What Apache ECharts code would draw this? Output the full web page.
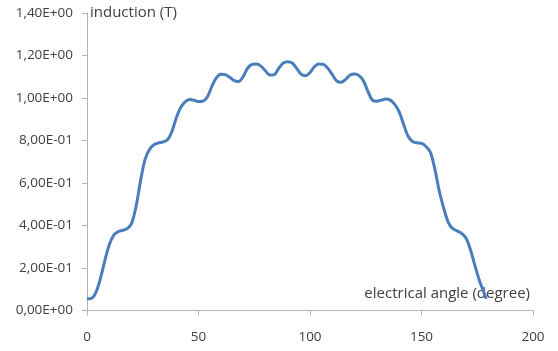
<!DOCTYPE html>
<html>
<head>
<meta charset="utf-8">
<script src="https://cdn.jsdelivr.net/npm/echarts@6/dist/echarts.min.js"></script>
<style>
  html, body { margin: 0; padding: 0; background: #fff; }
  #chart { width: 558px; height: 351px; }
</style>
</head>
<body>
<div id="chart"></div>
<script>
// Electrical angle (degree) and air-gap induction (T)
const angle = [
  0, 2, 4, 6, 8, 10, 12, 14, 16, 18, 20, 22, 24, 26, 28, 30, 32, 34, 36, 38,
  40, 42, 44, 46, 48, 50, 52, 54, 56, 58, 60, 62, 64, 66, 68, 70, 72, 74, 76, 78,
  80, 82, 84, 86, 88, 90, 92, 94, 96, 98, 100, 102, 104, 106, 108, 110, 112, 114, 116, 118,
  120, 122, 124, 126, 128, 130, 132, 134, 136, 138, 140, 142, 144, 146, 148, 150, 152, 154, 156, 158,
  160, 162, 164, 166, 168, 170, 172, 174, 176, 178, 179
];
const induction = [
  0.055, 0.057, 0.085, 0.15, 0.235, 0.31, 0.355, 0.371, 0.377, 0.385, 0.41, 0.49, 0.61, 0.71, 0.758, 0.78, 0.789, 0.793, 0.802, 0.84,
  0.905, 0.955, 0.982, 0.993, 0.99, 0.983, 0.985, 1.006, 1.055, 1.095, 1.112, 1.11, 1.098, 1.082, 1.078, 1.1, 1.14, 1.158, 1.16, 1.15,
  1.128, 1.108, 1.11, 1.14, 1.165, 1.171, 1.165, 1.14, 1.112, 1.105, 1.12, 1.148, 1.16, 1.158, 1.14, 1.11, 1.08, 1.074, 1.088, 1.108,
  1.113, 1.105, 1.08, 1.03, 0.99, 0.985, 0.99, 0.995, 0.99, 0.97, 0.935, 0.875, 0.82, 0.795, 0.789, 0.786, 0.772, 0.745, 0.665, 0.56,
  0.48, 0.415, 0.385, 0.375, 0.363, 0.34, 0.285, 0.21, 0.14, 0.085, 0.055
];
const xTicks = { min: 0, max: 200, step: 50 };
const yTicks = { min: 0, max: 1.4, step: 0.2 };
const yTitle = 'induction (T)';
const xTitle = 'electrical angle (degree)';

// Scientific notation with a decimal comma, e.g. 1,40E+00
function sci(v) {
  const parts = Number(v).toExponential(2).split('e');
  const exp = parseInt(parts[1], 10);
  const sign = exp < 0 ? '-' : '+';
  const mag = String(Math.abs(exp)).padStart(2, '0');
  return parts[0].replace('.', ',') + 'E' + sign + mag;
}

const font = '"Open Sans", sans-serif';
const textColor = '#404040';
const axisColor = '#b4b4b4';

const chart = echarts.init(document.getElementById('chart'), null, { renderer: 'canvas' });
chart.setOption({
  animation: false,
  grid: { left: 87, right: 25, top: 13, bottom: 40.5 },
  xAxis: {
    type: 'value',
    min: xTicks.min, max: xTicks.max, interval: xTicks.step,
    axisLine: { show: true, lineStyle: { color: axisColor, width: 1 } },
    axisTick: { show: true, length: 5, lineStyle: { color: axisColor } },
    splitLine: { show: false },
    axisLabel: { color: textColor, fontFamily: font, fontSize: 13.5, margin: 20 }
  },
  yAxis: {
    type: 'value',
    min: yTicks.min, max: yTicks.max, interval: yTicks.step,
    axisLine: { show: true, lineStyle: { color: axisColor, width: 1 } },
    axisTick: { show: true, length: 5, lineStyle: { color: axisColor } },
    splitLine: { show: false },
    axisLabel: { color: textColor, fontFamily: font, fontSize: 13.5, margin: 14, formatter: sci }
  },
  graphic: [
    { type: 'text', left: 90, top: 5,
      style: { text: yTitle, fill: textColor, font: '15px ' + font } },
    { type: 'text', right: 28, top: 286,
      style: { text: xTitle, fill: textColor, font: '15px ' + font } }
  ],
  series: [{
    type: 'line',
    data: angle.map((a, i) => [a, induction[i]]),
    smooth: 0.3,
    showSymbol: false,
    lineStyle: { color: '#4a7ebb', width: 3 }
  }]
});
</script>
</body>
</html>
